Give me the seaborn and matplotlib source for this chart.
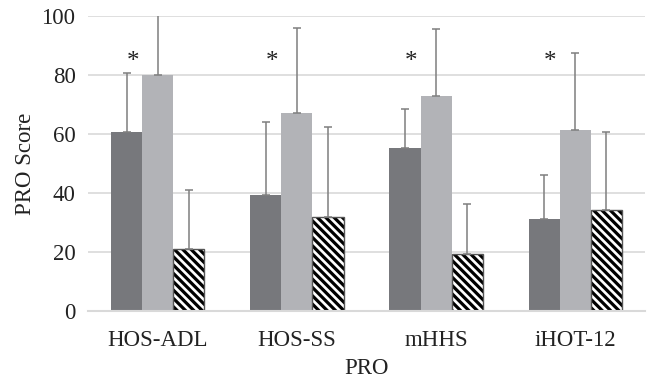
import matplotlib
matplotlib.use("Agg")
import matplotlib.pyplot as plt
import seaborn as sns
import pandas as pd
import numpy as np

categories = ["HOS-ADL", "HOS-SS", "mHHS", "iHOT-12"]
series = ["Series 1", "Series 2", "Series 3"]
means_1 = [60.8, 39.3, 55.4, 31.3]
means_2 = [80.0, 67.0, 72.9, 61.4]
means_3 = [20.9, 31.8, 19.3, 34.2]
upper_1 = [80.6, 64.1, 68.6, 46.2]
upper_2 = [102.0, 95.9, 95.7, 87.5]
upper_3 = [41.0, 62.5, 36.3, 60.7]
stars = ["*", "*", "*", "*"]

means = [means_1, means_2, means_3]
uppers = [upper_1, upper_2, upper_3]

rows = []
for s, m in zip(series, means):
    for c, v in zip(categories, m):
        rows.append({"PRO": c, "Group": s, "Score": v})
df = pd.DataFrame(rows)

sns.set_style("white")
plt.rcParams["font.family"] = ["Liberation Serif", "DejaVu Serif"]
plt.rcParams["hatch.linewidth"] = 2.3
plt.rcParams["hatch.color"] = "black"

fig = plt.figure(figsize=(6.51, 3.80), dpi=100)
ax = fig.add_axes([88 / 651, 1 - 311 / 380, (645 - 88) / 651, (311 - 16) / 380])

colors = ["#77787c", "#b2b3b7", "#ffffff"]
width = 0.67
sns.barplot(data=df, x="PRO", y="Score", hue="Group", order=categories,
            hue_order=series, palette=colors, width=width, errorbar=None,
            legend=False, ax=ax, saturation=1, linewidth=0, zorder=2)

bar_conts = list(ax.containers[:3])
for j, cont in enumerate(bar_conts):
    for k, bar in enumerate(cont.patches):
        if j == 2:
            bar.set_hatch("\\\\\\\\")
            bar.set_edgecolor("#555555")
            bar.set_linewidth(1.0)
            bar._hatch_color = matplotlib.colors.to_rgba("black")
        xc = bar.get_x() + bar.get_width() / 2
        h = bar.get_height()
        ax.errorbar([xc], [h], yerr=[[0], [uppers[j][k] - h]], fmt="none",
                    ecolor="#7f7f7f", elinewidth=1.1, capsize=2.9,
                    capthick=1.1, zorder=3)

for i, s in enumerate(stars):
    ax.text(i - 0.18, 84.5, s, ha="center", va="center", fontsize=18,
            color="#222222")

fs = 16.5
ax.set_ylim(0, 100)
ax.set_xlim(-0.5, 3.5)
ax.set_yticks([0, 20, 40, 60, 80, 100])
ax.yaxis.grid(True, color="#d9d9d9", linewidth=1.2, zorder=0)
ax.set_axisbelow(True)
for sp in ["top", "right", "left"]:
    ax.spines[sp].set_visible(False)
ax.spines["bottom"].set_color("#d9d9d9")
ax.spines["bottom"].set_linewidth(1.5)
ax.tick_params(axis="both", length=0, labelsize=fs, colors="#222222")
ax.tick_params(axis="y", pad=9)
ax.tick_params(axis="x", pad=14)
ax.set_xlabel("PRO", fontsize=fs, color="#222222", labelpad=5)
ax.set_ylabel("PRO Score", fontsize=fs, color="#222222", labelpad=4)

fig.savefig("out.png", dpi=100)
